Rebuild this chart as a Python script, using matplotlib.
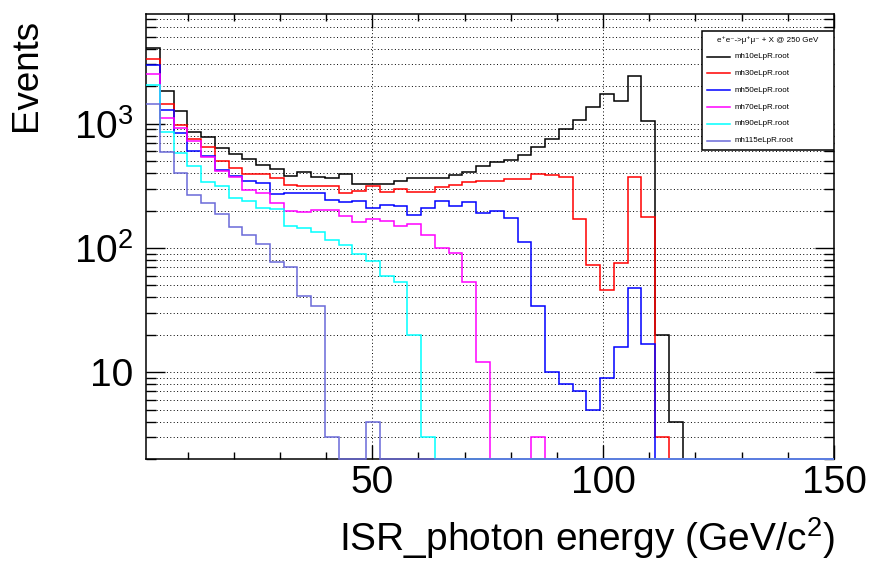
# ISR photon energy spectra for several Higgs masses, log scale
import numpy as np
import matplotlib
matplotlib.use('Agg')
import matplotlib.pyplot as plt
from matplotlib.ticker import FixedLocator, MultipleLocator, LogLocator, NullFormatter
from matplotlib.patches import Rectangle
from matplotlib.lines import Line2D

plt.rcParams['font.family'] = ['Liberation Sans', 'DejaVu Sans']
plt.rcParams['mathtext.fontset'] = 'custom'
plt.rcParams['mathtext.rm'] = 'Liberation Sans'
plt.rcParams['mathtext.default'] = 'regular'

# 50 bins from 1 to 150 GeV
edges = np.linspace(1, 150, 51)

# bin contents (trailing bins are empty)
mh10 = [4050, 1840, 1270, 866, 780, 637, 570, 519, 467, 434,
        381, 408, 376, 366, 396, 329, 329, 329, 349, 367,
        367, 367, 388, 410, 461, 494, 510, 565, 652, 752,
        915, 1075, 1375, 1740, 1520, 2430, 1060, 20, 4]
mh30 = [3340, 1445, 974, 752, 652, 497, 444, 393, 393, 363,
        323, 318, 315, 317, 277, 285, 313, 282, 301, 282,
        282, 307, 321, 339, 346, 346, 362, 362, 394, 385,
        372, 171, 73, 46, 76, 372, 179, 3]
mh50 = [2974, 1301, 840, 598, 552, 426, 383, 348, 333, 272,
        277, 275, 275, 244, 234, 241, 211, 220, 218, 184,
        211, 241, 218, 236, 191, 198, 173, 111, 34, 10,
        8, 7, 5, 9, 16, 48, 17]
mh70 = [2535, 1121, 922, 729, 542, 413, 372, 294, 275, 230,
        200, 195, 202, 202, 182, 163, 171, 166, 150, 155,
        127, 100, 91, 53, 12, 0, 0, 0, 3]
mh90 = [2043, 866, 586, 459, 337, 317, 252, 240, 210, 206,
        151, 145, 134, 117, 106, 90, 79, 60, 53, 20, 3]
mh115 = [1438, 591, 405, 268, 232, 186, 148, 128, 108, 77,
         70, 41, 34, 3, 0, 0, 4]

names = ['mh10eLpR.root', 'mh30eLpR.root', 'mh50eLpR.root',
         'mh70eLpR.root', 'mh90eLpR.root', 'mh115eLpR.root']
series = [mh10, mh30, mh50, mh70, mh90, mh115]
colors = ['#000000', '#ff0000', '#0000ff', '#ff00ff', '#00ffff', '#6a6ad8']

ymin, ymax = 2, 7650

fig = plt.figure(figsize=(8.71, 5.63), dpi=100)
ax = fig.add_axes([146/871, 1 - 459/563, 688/871, 445/563])

for vals, col in zip(series, colors):
    v = np.zeros(50)
    v[:len(vals)] = vals
    # empty bins are drawn along the bottom of the frame, like ROOT does
    v = np.where(v > 0, v, ymin)
    ax.stairs(v, edges, baseline=None, color=col, lw=1.1, zorder=3, clip_on=False)

ax.set_yscale('log')
ax.set_xlim(1, 150)
ax.set_ylim(ymin, ymax)

ax.xaxis.set_major_locator(FixedLocator([50, 100, 150]))
ax.xaxis.set_minor_locator(MultipleLocator(10))
ax.yaxis.set_major_locator(FixedLocator([10, 100, 1000]))
ax.set_yticklabels(['10', '$10^{2}$', '$10^{3}$'])
ax.yaxis.set_minor_locator(LogLocator(base=10, subs=np.arange(2, 10), numticks=20))
ax.yaxis.set_minor_formatter(NullFormatter())

ax.tick_params(axis='y', which='major', direction='in', length=14, width=1,
               left=True, right=True, pad=9, labelsize=28)
ax.tick_params(axis='y', which='minor', direction='in', length=7, width=1,
               left=True, right=True)
ax.tick_params(axis='x', which='major', direction='in', length=10, width=1,
               top=True, bottom=True, pad=4, labelsize=28)
ax.tick_params(axis='x', which='minor', direction='in', length=5, width=1,
               top=True, bottom=True)

# dotted grid: every y tick, only major x ticks
ax.grid(axis='y', which='both', color='k', ls=(0, (1, 2.5)), lw=0.7)
ax.grid(axis='x', which='major', color='k', ls=(0, (1, 2.5)), lw=0.7)
for s in ax.spines.values():
    s.set_linewidth(1.1)

ax.set_xlabel('ISR_photon energy (GeV/c$^{2}$)', fontsize=28, loc='right')
ax.xaxis.set_label_coords(1.0015, -0.127)
ax.set_ylabel('Events', fontsize=26.5, loc='top')
ax.yaxis.set_label_coords(-0.148, 0.99)

# legend box drawn like the ROOT TLegend
x0, x1, y0, y1 = 0.808, 1.0, 0.694, 0.962
ax.add_patch(Rectangle((x0, y0), x1 - x0, y1 - y0, transform=ax.transAxes,
                       facecolor='white', edgecolor='black', lw=1.1, zorder=5))
ax.text((x0 + x1) / 2, 0.9416, 'e⁺e⁻->μ⁺μ⁻ + X @ 250 GeV', transform=ax.transAxes,
        ha='center', va='center', fontsize=5.8, zorder=6)
for i, (name, col) in enumerate(zip(names, colors)):
    yy = 0.904 - i * 0.0377
    ax.add_line(Line2D([0.815, 0.849], [yy, yy], transform=ax.transAxes,
                       color=col, lw=1.1, zorder=6))
    ax.text(0.855, yy, name, transform=ax.transAxes, ha='left', va='center',
            fontsize=5.8, zorder=6)

plt.savefig('out.png', dpi=100)
